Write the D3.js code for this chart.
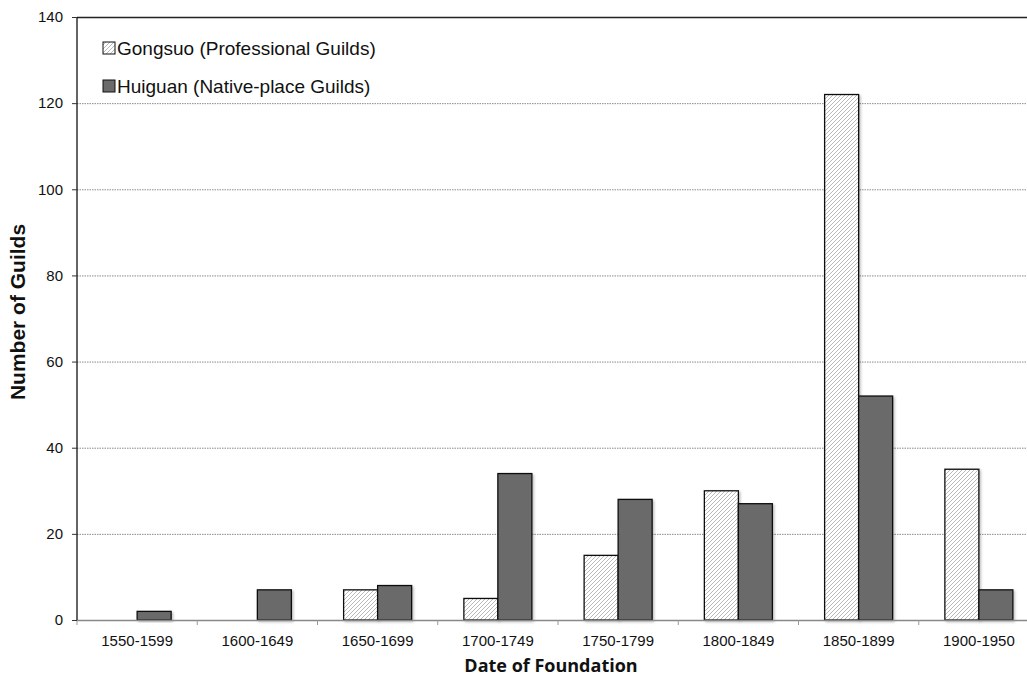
<!DOCTYPE html>
<html><head><meta charset="utf-8">
<script src="https://cdn.jsdelivr.net/npm/d3@7"></script>
<style>body{margin:0;background:#fff}svg{display:block}</style>
</head><body>
<svg id="c" width="1027" height="679"></svg>
<script>
const categories = ["1550-1599","1600-1649","1650-1699","1700-1749","1750-1799","1800-1849","1850-1899","1900-1950"];
const gongsuo = [0,0,7,5,15,30,122,35];
const huiguan = [2,7,8,34,28,27,52,7];
const seriesNames = ["Gongsuo (Professional Guilds)","Huiguan (Native-place Guilds)"];
const yTicks = [0,20,40,60,80,100,120,140];

const svg = d3.select("#c");
const L = 77, R = 1039, T = 17, B = 620;
const defs = svg.append("defs");
const pat = defs.append("pattern").attr("id","hatch").attr("patternUnits","userSpaceOnUse")
  .attr("width",4).attr("height",4);
pat.append("rect").attr("width",4).attr("height",4).attr("fill","#fff");
pat.append("path").attr("d","M-1,1 l2,-2 M0,4 l4,-4 M3,5 l2,-2").attr("stroke","#a8a8a8").attr("stroke-width",0.8);
const f = defs.append("filter").attr("id","sh").attr("x","-20%").attr("y","-20%").attr("width","150%").attr("height","150%");
f.append("feDropShadow").attr("dx",1.5).attr("dy",1.5).attr("stdDeviation",1).attr("flood-color","#000").attr("flood-opacity",0.25);

const x = d3.scaleBand().domain(categories).range([L,R]).paddingInner(0).paddingOuter(0);
const y = d3.scaleLinear().domain([0,140]).range([B,T]);
const barW = 34;
const FONT = "Liberation Sans, Arial, sans-serif";

// gridlines
svg.append("g").selectAll("line").data(yTicks.filter(d=>d>0&&d<140)).join("line")
  .attr("x1",L).attr("x2",1027).attr("y1",d=>y(d)+0.5).attr("y2",d=>y(d)+0.5)
  .attr("stroke","#8a8a8a").attr("stroke-width",1).attr("stroke-dasharray","1.5,1");
// top border
svg.append("line").attr("x1",L).attr("x2",1027).attr("y1",y(140)+0.5).attr("y2",y(140)+0.5)
  .attr("stroke","#222").attr("stroke-width",1.3);

// bars
const g = svg.append("g");
categories.forEach((c,i)=>{
  const cx = x(c) + x.bandwidth()/2;
  if (gongsuo[i] > 0) g.append("rect").attr("x",cx-barW).attr("y",y(gongsuo[i])).attr("width",barW)
    .attr("height",B-y(gongsuo[i])).attr("fill","url(#hatch)").attr("stroke","#111").attr("stroke-width",1.3).attr("filter","url(#sh)");
  if (huiguan[i] > 0) g.append("rect").attr("x",cx).attr("y",y(huiguan[i])).attr("width",barW)
    .attr("height",B-y(huiguan[i])).attr("fill","#6b6b6b").attr("stroke","#111").attr("stroke-width",1.3).attr("filter","url(#sh)");
});

// x axis
const xa = svg.append("g").attr("transform",`translate(0,${B})`)
  .call(d3.axisBottom(x).tickSize(0).tickPadding(15));
xa.select(".domain").remove();
xa.selectAll("text").attr("font-family",FONT).attr("font-size",15).attr("fill","#111");
svg.append("line").attr("x1",L).attr("x2",1027).attr("y1",B+0.5).attr("y2",B+0.5).attr("stroke","#888").attr("stroke-width",1.3);
svg.append("g").selectAll("line").data(categories.concat(["__end"])).join("line")
  .attr("x1",(d,i)=>L+i*x.bandwidth()).attr("x2",(d,i)=>L+i*x.bandwidth())
  .attr("y1",B).attr("y2",B+5).attr("stroke","#999").attr("stroke-width",1);

// y axis
const ya = svg.append("g").attr("transform",`translate(${L},0)`)
  .call(d3.axisLeft(y).tickValues(yTicks).tickSize(5).tickPadding(9));
ya.select(".domain").attr("stroke","#111").attr("stroke-width",1.3).attr("d",`M0,${T}V${B}`);
ya.selectAll(".tick line").attr("stroke","#333");
ya.selectAll("text").attr("font-family",FONT).attr("font-size",15).attr("fill","#111");

// titles
svg.append("text").attr("transform",`translate(25,312) rotate(-90)`).attr("text-anchor","middle")
  .attr("font-family",FONT).attr("font-weight","bold").attr("font-size",21).attr("fill","#111")
  .text("Number of Guilds");
svg.append("text").attr("x",551).attr("y",672).attr("text-anchor","middle")
  .attr("font-family","Open Sans, Lato, sans-serif").attr("font-weight","bold").attr("font-size",18).attr("fill","#111")
  .text("Date of Foundation");

// legend
const leg = svg.append("g");
seriesNames.forEach((n,i)=>{
  const yy = 48 + i*38;
  leg.append("rect").attr("x",103).attr("y",yy-6).attr("width",12).attr("height",12)
    .attr("fill", i===0 ? "url(#hatch)" : "#6b6b6b").attr("stroke","#111").attr("stroke-width",1);
  leg.append("text").attr("x",117).attr("y",yy+7).attr("font-family",FONT)
    .attr("font-size",19).attr("fill","#111").text(n);
});
</script>
</body></html>
